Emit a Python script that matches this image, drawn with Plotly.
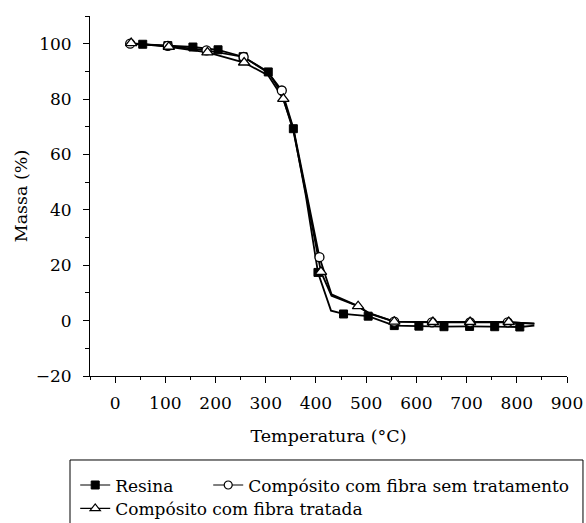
import plotly.graph_objects as go

# ---------------- data ----------------
# Resina (filled squares)
resina_T = [30, 55, 105, 155, 205, 255, 305, 330, 355, 380, 404, 430, 455, 504, 556, 605, 655, 706, 756, 806, 835]
resina_M = [100, 99.8, 99.3, 98.8, 97.8, 95.3, 89.8, 82.5, 69.3, 45, 17.4, 3.6, 2.4, 1.6, -1.8, -2.0, -2.2, -2.1, -2.2, -2.3, -1.8]
resina_mk_T = [55, 105, 155, 205, 255, 305, 355, 404, 455, 504, 556, 605, 655, 706, 756, 806]

# Compósito com fibra sem tratamento (open circles)
sem_T = [30, 105, 182, 256, 305, 332, 355, 380, 407, 431, 482, 505, 556, 631, 707, 782, 835]
sem_M = [100, 99.2, 97.6, 95.2, 89.5, 83.1, 69.5, 47, 22.9, 9.5, 5.4, 2.8, -0.4, -0.6, -0.6, -0.6, -1.0]
sem_mk_T = [30, 105, 182, 256, 332, 407, 556, 631, 707, 782]

# Compósito com fibra tratada (open triangles)
trat_T = [32, 107, 184, 257, 305, 335, 355, 380, 410, 431, 484, 505, 556, 633, 707, 784, 835]
trat_M = [100.2, 98.9, 96.9, 93.2, 88.5, 80.1, 68.5, 46, 17.6, 9.0, 5.2, 2.6, -0.4, -0.5, -0.5, -0.5, -1.2]
trat_mk_T = [32, 107, 184, 257, 335, 410, 484, 556, 633, 707, 784]

series_names = ["Resina", "Compósito com fibra sem tratamento", "Compósito com fibra tratada"]

x_ticks = [0, 100, 200, 300, 400, 500, 600, 700, 800, 900]
y_ticks = [-20, 0, 20, 40, 60, 80, 100]

FONT = "DejaVu Serif"
TICK_SIZE = 17
TITLE_SIZE = 17.5
LEG_SIZE = 17

def pick(T, M, keep):
    xs, ys = [], []
    for t, m in zip(T, M):
        if t in keep:
            xs.append(t)
            ys.append(m)
    return xs, ys

styles = [
    dict(symbol="square", size=8, color="black", line=dict(color="black", width=1)),
    dict(symbol="circle", size=9, color="white", line=dict(color="black", width=1.3)),
    dict(symbol="triangle-up", size=10, color="white", line=dict(color="black", width=1.3)),
]
legend_styles = [
    dict(symbol="square", size=8, color="black", line=dict(color="black", width=1)),
    dict(symbol="circle", size=8, color="white", line=dict(color="black", width=1.2)),
    dict(symbol="triangle-up", size=9, color="white", line=dict(color="black", width=1.2)),
]

data = [
    (resina_T, resina_M, resina_mk_T),
    (sem_T, sem_M, sem_mk_T),
    (trat_T, trat_M, trat_mk_T),
]

fig = go.Figure()
for (T, M, mk) in data:
    fig.add_trace(go.Scatter(x=T, y=M, mode="lines", line=dict(color="black", width=1.8),
                             showlegend=False, hoverinfo="skip"))
for (T, M, mk), st in zip(data, styles):
    mx, my = pick(T, M, mk)
    fig.add_trace(go.Scatter(x=mx, y=my, mode="markers", marker=st, showlegend=False))
legend_ids = ["legend", "legend", "legend2"]
legend_w = [88, None, None]
for name, st, lg, lw in zip(series_names, legend_styles, legend_ids, legend_w):
    kw = dict(legendwidth=lw) if lw else {}
    fig.add_trace(go.Scatter(x=[None], y=[None], mode="lines+markers", name=name, legend=lg,
                             line=dict(color="black", width=1.2), marker=st, **kw))

leg_common = dict(
    orientation="h", xanchor="left", yanchor="top",
    borderwidth=0, bgcolor="rgba(0,0,0,0)",
    font=dict(family=FONT, size=LEG_SIZE, color="black"),
    traceorder="normal",
)
fig.update_layout(
    width=586, height=523,
    margin=dict(l=90, r=19, t=16, b=147, autoexpand=False),
    paper_bgcolor="white", plot_bgcolor="white",
    font=dict(family=FONT, size=TICK_SIZE, color="black"),
    showlegend=True,
    legend=dict(x=-0.031, y=-0.254, **leg_common),
    legend2=dict(x=-0.031, y=-0.319, **leg_common),
    shapes=[dict(type="rect", xref="paper", yref="paper",
                 x0=-0.0419, x1=1.0335, y0=-0.2333, y1=-0.45,
                 line=dict(color="black", width=1), fillcolor="rgba(0,0,0,0)", layer="above")],
)

fig.update_xaxes(
    range=[-50, 900], tickvals=x_ticks, ticktext=[str(v) for v in x_ticks],
    showgrid=False, zeroline=False, showline=True, linecolor="black", linewidth=1,
    ticks="outside", ticklen=6, tickcolor="black", tickwidth=1,
    minor=dict(dtick=50, ticks="outside", ticklen=3, tickcolor="black", tickwidth=1, showgrid=False),
    tickfont=dict(family=FONT, size=TICK_SIZE, color="black"),
    ticklabelstandoff=6,
    title=dict(text="Temperatura (°C)", font=dict(family=FONT, size=TITLE_SIZE, color="black"), standoff=17),
)
fig.update_yaxes(
    range=[-20, 110], tickvals=y_ticks, ticktext=[("\u2212" + str(-v)) if v < 0 else str(v) for v in y_ticks],
    showgrid=False, zeroline=False, showline=True, linecolor="black", linewidth=1,
    ticks="outside", ticklen=6, tickcolor="black", tickwidth=1,
    minor=dict(dtick=10, ticks="outside", ticklen=4, tickcolor="black", tickwidth=1, showgrid=False),
    tickfont=dict(family=FONT, size=TICK_SIZE, color="black"),
    ticklabelstandoff=8,
    title=dict(text="Massa (%)", font=dict(family=FONT, size=TITLE_SIZE, color="black"), standoff=3),
)

fig.write_html("out.html")
